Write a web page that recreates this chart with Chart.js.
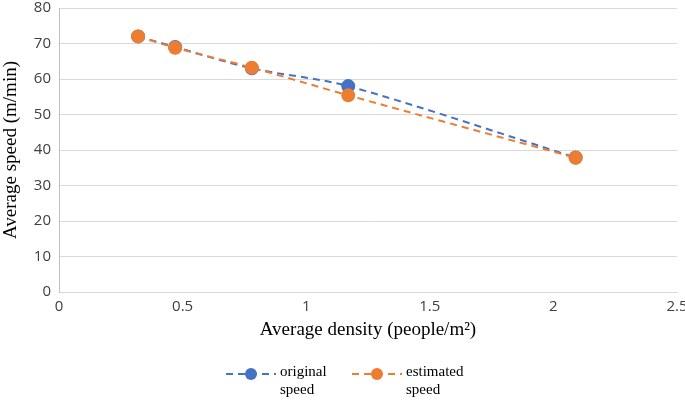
<!DOCTYPE html>
<html>
<head>
<meta charset="utf-8">
<script src="https://cdn.jsdelivr.net/npm/chart.js@4.4.0/dist/chart.umd.min.js"></script>
<style>
  html, body { margin: 0; padding: 0; background: #fff; }
  #wrap { width: 685px; height: 400px; position: relative; }
</style>
</head>
<body>
<div id="wrap"><canvas id="speedChart"></canvas></div>
<script>
// density (people/m2) vs speed (m/min)
var density = [0.32, 0.47, 0.78, 1.17, 2.09];
var originalSpeed = [72, 69, 63, 58, 37.9];
var estimatedSpeed = [72, 68.8, 63.2, 55.4, 37.8];
var seriesNames = [["original", "speed"], ["estimated", "speed"]];
var seriesColors = ["#4472c4", "#ed7d31"];

function toPoints(xs, ys) {
    return xs.map(function (x, i) { return { x: x, y: ys[i] }; });
}

// legend at the bottom, two-line labels like the Excel one
var bottomLegend = {
    id: 'bottomLegend',
    afterDraw: function (chart) {
        var ctx = chart.ctx;
        var starts = [226, 352];
        ctx.save();
        chart.data.datasets.forEach(function (ds, i) {
            var x0 = starts[i], y = 374;
            ctx.strokeStyle = ds.borderColor;
            ctx.lineWidth = 2;
            ctx.setLineDash([7, 5]);
            ctx.beginPath();
            ctx.moveTo(x0, y);
            ctx.lineTo(x0 + 50, y);
            ctx.stroke();
            ctx.setLineDash([]);
            ctx.fillStyle = ds.backgroundColor;
            ctx.beginPath();
            ctx.arc(x0 + 25, y, 6, 0, Math.PI * 2);
            ctx.fill();
            ctx.fillStyle = '#000';
            ctx.font = '15px "Liberation Serif"';
            ctx.textBaseline = 'middle';
            ctx.textAlign = 'left';
            ctx.fillText(seriesNames[i][0], x0 + 54, 372);
            ctx.fillText(seriesNames[i][1], x0 + 54, 390);
        });
        ctx.restore();
    }
};

var ctx = document.getElementById("speedChart");
var myChart = new Chart(ctx, {
    type: 'scatter',
    data: {
        datasets: [{
            label: 'original speed',
            data: toPoints(density, originalSpeed),
            borderColor: seriesColors[0],
            backgroundColor: seriesColors[0],
            showLine: true,
            borderWidth: 2,
            borderDash: [7, 5],
            pointRadius: 6,
            pointHoverRadius: 6,
            tension: 0.3,
            order: 2
        }, {
            label: 'estimated speed',
            data: toPoints(density, estimatedSpeed),
            borderColor: seriesColors[1],
            backgroundColor: seriesColors[1],
            showLine: true,
            borderWidth: 2,
            borderDash: [7, 5],
            pointRadius: 6,
            pointHoverRadius: 6,
            tension: 0.3,
            order: 1
        }]
    },
    options: {
        responsive: true,
        maintainAspectRatio: false,
        animation: false,
        layout: { padding: { top: 8, right: 8, bottom: 55, left: 0 } },
        plugins: {
            legend: { display: false },
            tooltip: { enabled: false }
        },
        scales: {
            x: {
                type: 'linear',
                min: 0,
                max: 2.5,
                grid: { display: false, drawTicks: false },
                border: { display: true, color: '#d9d9d9', width: 1 },
                ticks: {
                    stepSize: 0.5,
                    padding: 6,
                    color: '#404040',
                    font: { family: '"Open Sans"', size: 15 },
                    callback: function (value) { return String(value); }
                },
                title: {
                    display: true,
                    text: 'Average density (people/m²)',
                    color: '#000',
                    font: { family: '"Liberation Serif"', size: 19 },
                    padding: { top: 0, bottom: 4 }
                },
                afterFit: function (s) {
                    s.height = 53;
                    s.paddingLeft = 0;
                    s.paddingRight = 0;
                }
            },
            y: {
                min: 0,
                max: 80,
                grid: { color: '#d9d9d9', drawTicks: false },
                border: { display: true, color: '#bfbfbf', width: 1 },
                ticks: {
                    stepSize: 10,
                    padding: 8,
                    color: '#404040',
                    font: { family: '"Open Sans"', size: 15 }
                },
                title: {
                    display: true,
                    text: 'Average speed (m/min)',
                    color: '#000',
                    font: { family: '"Liberation Serif"', size: 19 },
                    padding: { top: 0, bottom: 0 }
                },
                afterFit: function (s) {
                    s.width = 59;
                    s.paddingTop = 0;
                    s.paddingBottom = 0;
                }
            }
        }
    },
    plugins: [bottomLegend]
});
</script>
</body>
</html>
